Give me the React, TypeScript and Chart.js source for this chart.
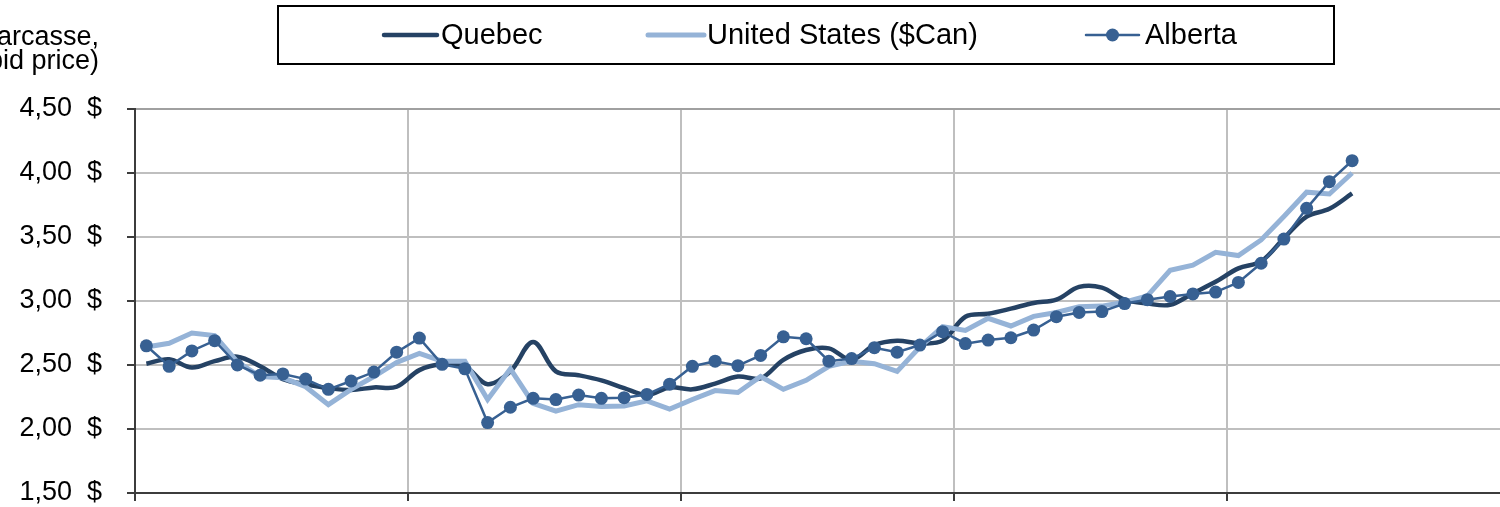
import React, { useEffect, useRef } from 'react';
import { Chart, registerables } from 'chart.js';

Chart.register(...registerables);

// ---- data ----
const MONTHS = ['Jan', 'Feb', 'Mar', 'Apr', 'May', 'Jun', 'Jul', 'Aug', 'Sep', 'Oct', 'Nov', 'Dec'];
const YEARS = ['1', '2', '3', '4', '5'];
const CATEGORIES = YEARS.flatMap((y) => MONTHS.map((m) => `${m} ${y}`));

const SERIES_NAMES = ['Quebec', 'United States ($Can)', 'Alberta'];

const QUEBEC = [
  2.51, 2.545, 2.48, 2.53, 2.565, 2.49, 2.39, 2.35, 2.32, 2.305, 2.325, 2.33,
  2.46, 2.505, 2.49, 2.35, 2.45, 2.68, 2.45, 2.42, 2.38, 2.32, 2.266, 2.325,
  2.31, 2.355, 2.41, 2.395, 2.54, 2.617, 2.63, 2.54, 2.656, 2.69, 2.67, 2.69,
  2.877, 2.9, 2.94, 2.985, 3.01, 3.11, 3.105, 3.01, 2.98, 2.97, 3.06, 3.15,
  3.255, 3.31, 3.49, 3.66, 3.72, 3.84,
];

const UNITED_STATES = [
  2.64, 2.67, 2.75, 2.73, 2.525, 2.41, 2.4, 2.33, 2.19, 2.31, 2.41, 2.52,
  2.59, 2.53, 2.53, 2.23, 2.47, 2.2, 2.14, 2.19, 2.175, 2.18, 2.22, 2.156,
  2.23, 2.3, 2.285, 2.41, 2.31, 2.38, 2.49, 2.53, 2.51, 2.45, 2.64, 2.8,
  2.77, 2.865, 2.805, 2.88, 2.91, 2.955, 2.96, 2.99, 3.04, 3.24, 3.28, 3.38,
  3.355, 3.477, 3.66, 3.85, 3.836, 4.0,
];

const ALBERTA = [
  2.65, 2.49, 2.61, 2.69, 2.5, 2.42, 2.43, 2.39, 2.31, 2.375, 2.445, 2.6,
  2.71, 2.505, 2.47, 2.05, 2.17, 2.24, 2.23, 2.265, 2.24, 2.245, 2.27, 2.35,
  2.49, 2.53, 2.495, 2.575, 2.72, 2.705, 2.53, 2.55, 2.635, 2.6, 2.656, 2.76,
  2.667, 2.695, 2.713, 2.773, 2.877, 2.91, 2.917, 2.98, 3.01, 3.035, 3.055, 3.07,
  3.145, 3.295, 3.484, 3.724, 3.932, 4.096,
];

const Y_TICK_VALUES = [1.5, 2.0, 2.5, 3.0, 3.5, 4.0, 4.5];
const Y_TICK_LABELS = ['1,50  $', '2,00  $', '2,50  $', '3,00  $', '3,50  $', '4,00  $', '4,50  $'];
const Y_TITLE = ['carcasse,', 'bid price)'];

// ---- styles ----
const FONT = '"Liberation Sans", Arial, sans-serif';
const C_QUEBEC = '#254264';
const C_US = '#95B3D7';
const C_ALBERTA = '#376092';
const AXIS = '#3c3c3c';
const GRID = '#bfbfbf';

const overlayPlugin = {
  id: 'overlay',
  afterDraw(chart: any) {
    const ctx = chart.ctx as CanvasRenderingContext2D;
    ctx.save();
    // axis title (cut at left edge like the reference)
    ctx.font = `27px ${FONT}`;
    ctx.fillStyle = '#000';
    ctx.textAlign = 'right';
    ctx.textBaseline = 'alphabetic';
    ctx.fillText(Y_TITLE[0], 99, 45);
    ctx.fillText(Y_TITLE[1], 99, 69);

    // legend box
    ctx.fillStyle = '#fff';
    ctx.fillRect(278, 6, 1056, 58);
    ctx.strokeStyle = '#000';
    ctx.lineWidth = 2;
    ctx.strokeRect(278, 6, 1056, 58);

    const ds = chart.data.datasets;
    const items = [
      { x0: 384, x1: 437, tx: 441, d: ds[0] },
      { x0: 648, x1: 704, tx: 707, d: ds[1] },
      { x0: 1086, x1: 1139, tx: 1145, d: ds[2] },
    ];
    const cy = 35;
    ctx.textAlign = 'left';
    ctx.textBaseline = 'middle';
    ctx.font = `29px ${FONT}`;
    items.forEach((it) => {
      ctx.strokeStyle = it.d.borderColor;
      ctx.lineWidth = it.d.borderWidth;
      ctx.lineCap = 'round';
      ctx.beginPath();
      ctx.moveTo(it.x0, cy);
      ctx.lineTo(it.x1, cy);
      ctx.stroke();
      if (it.d.pointRadius > 0) {
        ctx.fillStyle = it.d.pointBackgroundColor;
        ctx.beginPath();
        ctx.arc((it.x0 + it.x1) / 2, cy, it.d.pointRadius, 0, Math.PI * 2);
        ctx.fill();
      }
      ctx.fillStyle = '#000';
      ctx.fillText(it.d.label, it.tx, cy + 1);
    });
    ctx.restore();
  },
};

export default function App() {
  const ref = useRef<HTMLCanvasElement | null>(null);

  useEffect(() => {
    document.body.style.margin = '0';
    const canvas = ref.current;
    if (!canvas) return;
    const chart = new Chart(canvas, {
      type: 'line',
      data: {
        labels: CATEGORIES,
        datasets: [
          {
            label: SERIES_NAMES[0],
            data: QUEBEC,
            borderColor: C_QUEBEC,
            backgroundColor: C_QUEBEC,
            borderWidth: 4.5,
            pointRadius: 0,
            tension: 0.35,
            order: 3,
          } as any,
          {
            label: SERIES_NAMES[1],
            data: UNITED_STATES,
            borderColor: C_US,
            backgroundColor: C_US,
            borderWidth: 5,
            pointRadius: 0,
            tension: 0,
            order: 2,
          },
          {
            label: SERIES_NAMES[2],
            data: ALBERTA,
            borderColor: C_ALBERTA,
            backgroundColor: C_ALBERTA,
            pointBackgroundColor: C_ALBERTA,
            pointBorderColor: C_ALBERTA,
            pointBorderWidth: 0,
            borderWidth: 2.5,
            pointRadius: 6.5,
            tension: 0,
            order: 1,
          },
        ],
      },
      options: {
        responsive: false,
        animation: false,
        devicePixelRatio: 1,
        layout: { autoPadding: false, padding: { top: 109, left: 0, right: 0, bottom: 0 } },
        plugins: {
          legend: { display: false },
          tooltip: { enabled: false },
          title: { display: false },
        },
        scales: {
          x: {
            type: 'category',
            offset: true,
            grid: {
              offset: true,
              lineWidth: 2,
              color: (c: any) => (c.index > 0 && c.index < 60 && c.index % 12 === 0 ? GRID : 'rgba(0,0,0,0)'),
              tickColor: (c: any) => (c.index < 60 && c.index % 12 === 0 ? AXIS : 'rgba(0,0,0,0)'),
              tickLength: 8,
              drawTicks: true,
            },
            border: { display: true, color: AXIS, width: 2 },
            ticks: { display: false, autoSkip: false },
            afterFit: (s: any) => {
              s.height = 14;
              s.paddingLeft = 0;
              s.paddingRight = 0;
            },
          },
          y: {
            min: 1.5,
            max: 4.5,
            afterBuildTicks: (s: any) => {
              s.ticks = Y_TICK_VALUES.map((v) => ({ value: v }));
            },
            grid: {
              lineWidth: 2,
              color: (c: any) =>
                c.tick && c.tick.value === 1.5 ? 'rgba(0,0,0,0)' : c.tick && c.tick.value === 4.5 ? '#a0a0a0' : GRID,
              tickColor: AXIS,
              tickLength: 8,
            },
            border: { display: true, color: AXIS, width: 2 },
            ticks: {
              padding: 25,
              color: '#000',
              font: { family: FONT, size: 27 },
              callback: (v: any) => {
                const i = Y_TICK_VALUES.findIndex((t) => Math.abs(t - Number(v)) < 1e-6);
                return i >= 0 ? Y_TICK_LABELS[i] : '';
              },
            },
            afterFit: (s: any) => {
              s.width = 135;
              s.paddingTop = 0;
              s.paddingBottom = 0;
            },
          },
        },
      },
      plugins: [overlayPlugin],
    });
    return () => chart.destroy();
  }, []);

  return (
    <div style={{ width: 1500, height: 507, background: '#fff' }}>
      <canvas ref={ref} width={1500} height={507} style={{ display: 'block' }} />
    </div>
  );
}
